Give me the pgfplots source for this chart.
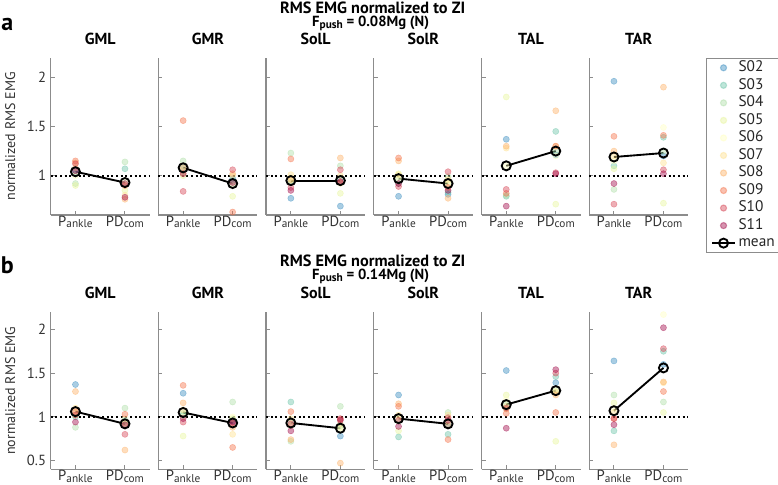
\documentclass[border=0pt]{standalone}
\usepackage{fontspec}
\setmainfont{PT Sans}
\usepackage{pgfplots}
\usepackage{pgfplotstable}
\pgfplotsset{compat=1.18}

% Spectral colours, one per subject
\definecolor{cS02}{HTML}{3288BD}
\definecolor{cS03}{HTML}{66C2A5}
\definecolor{cS04}{HTML}{ABDDA4}
\definecolor{cS05}{HTML}{E6F598}
\definecolor{cS06}{HTML}{FFFFBF}
\definecolor{cS07}{HTML}{FEE08B}
\definecolor{cS08}{HTML}{FDAE61}
\definecolor{cS09}{HTML}{F46D43}
\definecolor{cS10}{HTML}{D53E4F}
\definecolor{cS11}{HTML}{9E0142}
\definecolor{axgray}{HTML}{8C8C8C}

\newcommand{\sub}[1]{\raisebox{-0.25ex}{\fontsize{8.5}{8.5}\selectfont #1}}

% x = 1 (P_ankle), x = 2 (PD_com)
% --- F_push = 0.08Mg
\pgfplotstableread{
x S02 S03 S04 S05 S06 S07 S08 S09 S10 S11 mean
1 1.05 1.02 0.92 0.90 1.00 1.08 1.13 1.15 1.12 1.05 1.04
2 0.92 1.07 1.14 0.85 0.95 0.80 0.76 0.90 0.92 0.78 0.93
}\aGML
\pgfplotstableread{
x S02 S03 S04 S05 S06 S07 S08 S09 S10 S11 mean
1 1.05 1.10 1.15 1.00 1.05 1.02 1.08 1.56 0.84 1.02 1.08
2 0.97 0.95 0.92 0.79 0.90 1.00 1.02 0.63 1.06 0.93 0.92
}\aGMR
\pgfplotstableread{
x S02 S03 S04 S05 S06 S07 S08 S09 S10 S11 mean
1 0.77 0.93 1.23 0.95 0.98 1.01 0.96 1.17 0.88 0.85 0.95
2 0.69 0.96 1.10 0.82 0.92 1.00 1.18 0.93 1.06 0.94 0.95
}\aSolL
\pgfplotstableread{
x S02 S03 S04 S05 S06 S07 S08 S09 S10 S11 mean
1 0.79 0.92 0.96 1.02 0.98 1.01 1.15 1.18 0.89 0.92 0.97
2 0.81 0.83 0.99 0.92 0.95 0.96 0.77 0.88 1.04 0.85 0.92
}\aSolR
\pgfplotstableread{
x S02 S03 S04 S05 S06 S07 S08 S09 S10 S11 mean
1 1.37 0.79 0.80 1.80 1.10 1.28 1.30 0.82 0.86 0.69 1.10
2 1.21 1.45 1.25 0.71 1.20 1.30 1.66 1.30 1.03 1.02 1.25
}\aTAL
\pgfplotstableread{
x S02 S03 S04 S05 S06 S07 S08 S09 S10 S11 mean
1 1.96 1.10 0.86 1.07 1.15 1.20 1.25 1.40 0.71 0.92 1.19
2 1.20 1.39 1.25 0.72 1.49 1.13 1.90 1.41 1.06 1.02 1.23
}\aTAR
% --- F_push = 0.14Mg
\pgfplotstableread{
x S02 S03 S04 S05 S06 S07 S08 S09 S10 S11 mean
1 1.37 1.00 0.88 1.02 1.05 1.10 1.29 1.06 1.02 0.94 1.06
2 0.95 0.96 1.10 0.92 0.98 0.93 0.62 1.03 0.80 0.91 0.92
}\bGML
\pgfplotstableread{
x S02 S03 S04 S05 S06 S07 S08 S09 S10 S11 mean
1 1.27 1.02 1.04 0.78 1.00 1.08 1.16 1.36 0.94 0.98 1.05
2 0.95 0.97 1.17 0.98 1.00 0.80 0.88 0.65 0.93 0.94 0.93
}\bGMR
\pgfplotstableread{
x S02 S03 S04 S05 S06 S07 S08 S09 S10 S11 mean
1 0.95 1.17 0.72 0.90 0.95 0.98 0.74 1.06 0.92 0.84 0.93
2 0.78 0.90 1.12 0.88 0.85 0.92 0.47 0.97 0.98 0.96 0.87
}\bSolL
\pgfplotstableread{
x S02 S03 S04 S05 S06 S07 S08 S09 S10 S11 mean
1 1.25 0.77 0.95 0.84 1.00 1.02 1.15 1.12 0.96 0.89 0.98
2 0.90 0.80 1.05 0.95 0.97 1.02 0.90 0.74 0.99 0.96 0.92
}\bSolR
\pgfplotstableread{
x S02 S03 S04 S05 S06 S07 S08 S09 S10 S11 mean
1 1.53 1.10 1.15 1.25 1.20 1.12 1.09 1.04 1.10 0.87 1.14
2 1.39 1.46 1.30 0.72 1.30 1.28 1.25 1.05 1.50 1.54 1.30
}\bTAL
\pgfplotstableread{
x S02 S03 S04 S05 S06 S07 S08 S09 S10 S11 mean
1 1.64 0.84 1.25 1.16 1.10 1.05 0.68 0.98 0.98 0.91 1.07
2 1.60 1.75 1.17 1.05 2.17 1.39 1.40 1.29 1.78 2.02 1.56
}\bTAR

\pgfplotsset{
    panel/.style={
        scale only axis,
        width=74.25pt, height=118pt,
        anchor=south west,
        xmin=0.5, xmax=2.5,
        axis x line*=bottom, axis y line*=left,
        axis line style={-, axgray, line width=1pt},
        xtick={1,2},
        xticklabels={P\sub{ankle}, PD\sub{com}},
        tick style={axgray, line width=0.8pt},
        major tick length=3pt,
        tick align=inside,
        tick label style={font=\fontsize{11}{11}\selectfont, color=black!80},
        xticklabel style={yshift=3pt},
        /pgf/number format/assume math mode=true,
        clip=false,
        title style={at={(0.5,1)}, anchor=base, yshift=4.2pt,
            font=\bfseries\fontsize{12}{12}\selectfont},
    },
    rowa/.style={ymin=0.6, ymax=2.2, ytick={1,1.5,2}},
    rowb/.style={ymin=0.4, ymax=2.2, ytick={0.5,1,1.5,2}},
    first/.style={
        ylabel={normalized RMS EMG},
        ylabel style={at={(axis description cs:-0.41,0.5)}, anchor=center,
            font=\fontsize{10.5}{10.5}\selectfont, color=black!80},
    },
    rest/.style={yticklabels={}},
}

% #1 table, #2 title, #3 x, #4 y, #5 extra options
\newcommand{\panel}[5]{%
\begin{axis}[panel, at={(#3,#4)}, title={#2}, #5]
\addplot[black, dotted, line width=1.5pt, forget plot] coordinates {(0.5,1) (2.5,1)};
\pgfplotsinvokeforeach{S02,S03,S04,S05,S06,S07,S08,S09,S10,S11}{
  \addplot[only marks, mark=*, mark size=2.3pt, color=c##1, opacity=0.42] table[x=x, y=##1] {#1};
}
\addplot[black, line width=1.4pt, mark=o, mark size=3.4pt] table[x=x, y=mean] {#1};
\end{axis}}

\begin{document}
\begin{tikzpicture}
\path[use as bounding box] (0,0) rectangle (583.5pt,363.75pt);

% panel a
\panel{\aGML}{GML}{38.03pt}{202.5pt}{rowa, first}
\panel{\aGMR}{GMR}{118.8pt}{202.5pt}{rowa, rest}
\panel{\aSolL}{SolL}{199.58pt}{202.5pt}{rowa, rest}
\panel{\aSolR}{SolR}{280.35pt}{202.5pt}{rowa, rest}
\panel{\aTAL}{TAL}{361.13pt}{202.5pt}{rowa, rest}
\panel{\aTAR}{TAR}{441.9pt}{202.5pt}{rowa, rest,
    legend entries={S02,S03,S04,S05,S06,S07,S08,S09,S10,S11,mean},
    legend cell align=left,
    legend style={at={(1.18,1.0)}, anchor=north west, draw=axgray, line width=0.8pt,
        font=\fontsize{11.5}{11.5}\selectfont, text=black!85,
        row sep=2.75pt,
        nodes={inner ysep=0pt, inner xsep=2pt, text height=8pt, text depth=2.4pt},
        inner xsep=3.5pt, inner ysep=2pt}}

% panel b
\panel{\bGML}{GML}{38.03pt}{11.78pt}{rowb, first}
\panel{\bGMR}{GMR}{118.8pt}{11.78pt}{rowb, rest}
\panel{\bSolL}{SolL}{199.58pt}{11.78pt}{rowb, rest}
\panel{\bSolR}{SolR}{280.35pt}{11.78pt}{rowb, rest}
\panel{\bTAL}{TAL}{361.13pt}{11.78pt}{rowb, rest}
\panel{\bTAR}{TAR}{441.9pt}{11.78pt}{rowb, rest}

% headings
\node[font=\bfseries\fontsize{12.2}{12.5}\selectfont] at (279.5pt,358pt) {RMS EMG normalized to ZI};
\node[font=\bfseries\fontsize{11}{11}\selectfont] at (278pt,346pt) {F\sub{push} = 0.08Mg (N)};
\node[font=\bfseries\fontsize{12.2}{12.5}\selectfont] at (279.5pt,168.5pt) {RMS EMG normalized to ZI};
\node[font=\bfseries\fontsize{11}{11}\selectfont] at (278pt,156.5pt) {F\sub{push} = 0.14Mg (N)};
\node[font=\bfseries\fontsize{18}{18}\selectfont] at (5.5pt,345.5pt) {a};
\node[font=\bfseries\fontsize{18}{18}\selectfont] at (5.5pt,164.5pt) {b};
\end{tikzpicture}
\end{document}
